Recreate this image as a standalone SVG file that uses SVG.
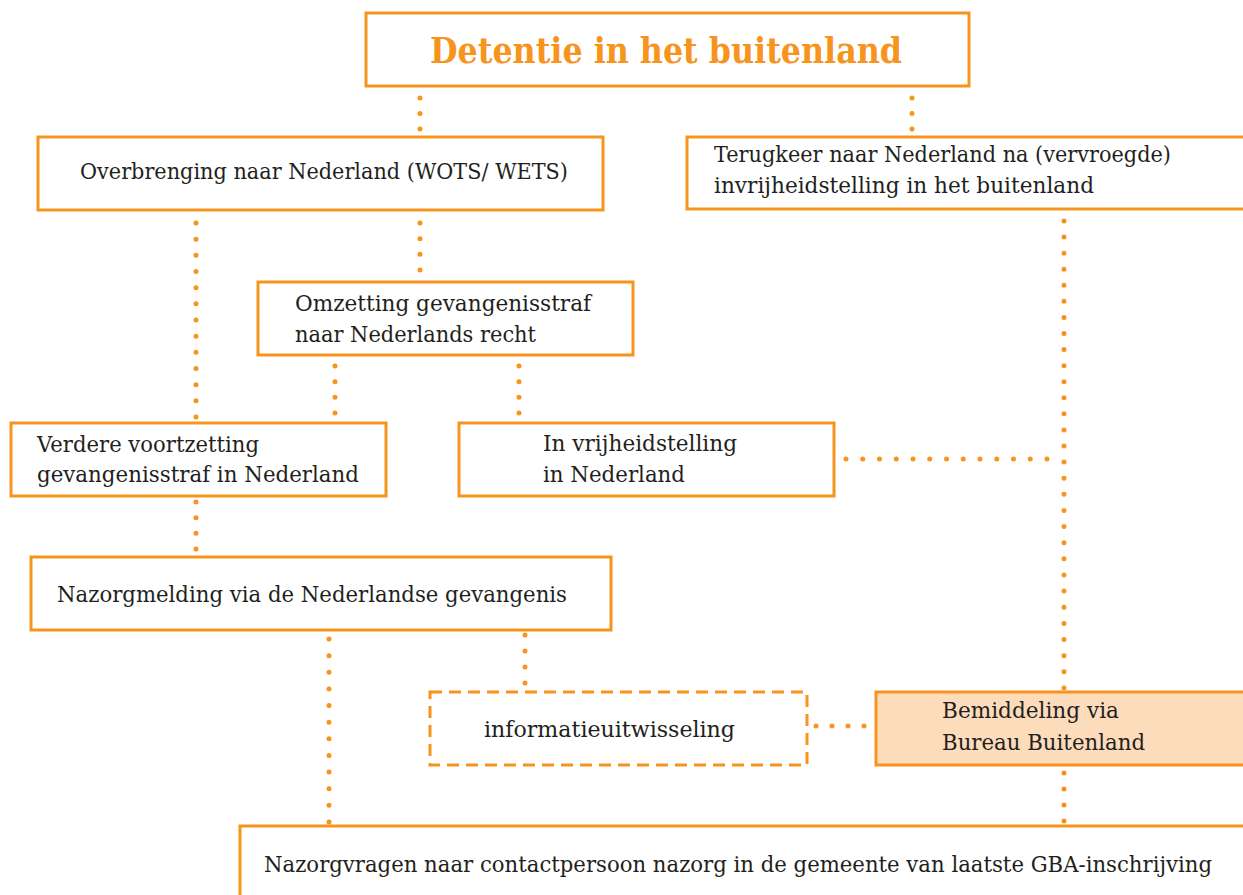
<svg xmlns="http://www.w3.org/2000/svg" width="1243" height="895" viewBox="0 0 1243 895">
<style>
.box{fill:#ffffff;stroke:#F7941D;stroke-width:3}
.dash{fill:#ffffff;stroke:#F7941D;stroke-width:3;stroke-dasharray:12 7}
.fill{fill:#FDDCBC;stroke:#F7941D;stroke-width:3}
.t{font-family:"DejaVu Serif","Liberation Serif",serif;font-size:21.5px;fill:#231F20}
.title{font-family:"DejaVu Serif","Liberation Serif",serif;font-size:35px;font-weight:bold;fill:#F7941D}
.dot{stroke:#F7941D;stroke-width:5;stroke-linecap:round;fill:none}
</style>
<rect width="1243" height="895" fill="#ffffff"/>
<g id="connectors">
<line class="dot" x1="420" y1="98" x2="420" y2="130" stroke-dasharray="0 15.5"/>
<line class="dot" x1="912" y1="98" x2="912" y2="130" stroke-dasharray="0 15.5"/>
<line class="dot" x1="196" y1="223" x2="196" y2="418" stroke-dasharray="0 16.167"/>
<line class="dot" x1="420" y1="223" x2="420" y2="271" stroke-dasharray="0 15.667"/>
<line class="dot" x1="335" y1="366" x2="335" y2="414" stroke-dasharray="0 15.667"/>
<line class="dot" x1="519" y1="366" x2="519" y2="414" stroke-dasharray="0 15.667"/>
<line class="dot" x1="196" y1="502" x2="196" y2="550" stroke-dasharray="0 15.667"/>
<line class="dot" x1="846" y1="459" x2="1048" y2="459" stroke-dasharray="0 16.75"/>
<line class="dot" x1="1064" y1="221" x2="1064" y2="447" stroke-dasharray="0 16.07"/>
<line class="dot" x1="1064" y1="462" x2="1064" y2="689" stroke-dasharray="0 16.14"/>
<line class="dot" x1="1064" y1="773" x2="1064" y2="822" stroke-dasharray="0 16"/>
<line class="dot" x1="329" y1="639" x2="329" y2="823" stroke-dasharray="0 16.636"/>
<line class="dot" x1="525" y1="635" x2="525" y2="684" stroke-dasharray="0 16"/>
<line class="dot" x1="816" y1="726" x2="865" y2="726" stroke-dasharray="0 16"/>
</g>
<g id="title">
<rect class="box" x="366" y="13" width="603" height="73"/>
<text class="title" x="430" y="63" textLength="472" lengthAdjust="spacingAndGlyphs">Detentie in het buitenland</text>
</g>
<g id="overbrenging">
<rect class="box" x="38" y="137" width="565" height="73"/>
<text class="t" x="80" y="179" textLength="488" lengthAdjust="spacingAndGlyphs">Overbrenging naar Nederland (WOTS/ WETS)</text>
</g>
<g id="terugkeer">
<rect class="box" x="687" y="137" width="570" height="72"/>
<text class="t" x="714" y="162" textLength="457" lengthAdjust="spacingAndGlyphs">Terugkeer naar Nederland na (vervroegde)</text>
<text class="t" x="714" y="193" textLength="380" lengthAdjust="spacingAndGlyphs">invrijheidstelling in het buitenland</text>
</g>
<g id="omzetting">
<rect class="box" x="258" y="282" width="375" height="73"/>
<text class="t" x="295" y="311" textLength="296" lengthAdjust="spacingAndGlyphs">Omzetting gevangenisstraf</text>
<text class="t" x="295" y="342" textLength="241" lengthAdjust="spacingAndGlyphs">naar Nederlands recht</text>
</g>
<g id="verdere">
<rect class="box" x="11" y="423" width="375" height="73"/>
<text class="t" x="37" y="452" textLength="222" lengthAdjust="spacingAndGlyphs">Verdere voortzetting</text>
<text class="t" x="37" y="482" textLength="322" lengthAdjust="spacingAndGlyphs">gevangenisstraf in Nederland</text>
</g>
<g id="invrijheidstelling">
<rect class="box" x="459" y="423" width="375" height="73"/>
<text class="t" x="543" y="451" textLength="194" lengthAdjust="spacingAndGlyphs">In vrijheidstelling</text>
<text class="t" x="543" y="482" textLength="142" lengthAdjust="spacingAndGlyphs">in Nederland</text>
</g>
<g id="nazorgmelding">
<rect class="box" x="31" y="557" width="580" height="73"/>
<text class="t" x="57" y="602" textLength="510" lengthAdjust="spacingAndGlyphs">Nazorgmelding via de Nederlandse gevangenis</text>
</g>
<g id="informatieuitwisseling">
<rect class="dash" x="430" y="692" width="377" height="73"/>
<text class="t" x="484" y="737" textLength="251" lengthAdjust="spacingAndGlyphs">informatieuitwisseling</text>
</g>
<g id="bemiddeling">
<rect class="fill" x="876" y="692" width="380" height="73"/>
<text class="t" x="942" y="718" textLength="177" lengthAdjust="spacingAndGlyphs">Bemiddeling via</text>
<text class="t" x="942" y="750" textLength="203" lengthAdjust="spacingAndGlyphs">Bureau Buitenland</text>
</g>
<g id="nazorgvragen">
<rect class="box" x="240" y="826" width="1020" height="90"/>
<text class="t" x="264" y="872" textLength="948" lengthAdjust="spacingAndGlyphs">Nazorgvragen naar contactpersoon nazorg in de gemeente van laatste GBA-inschrijving</text>
</g>
</svg>
